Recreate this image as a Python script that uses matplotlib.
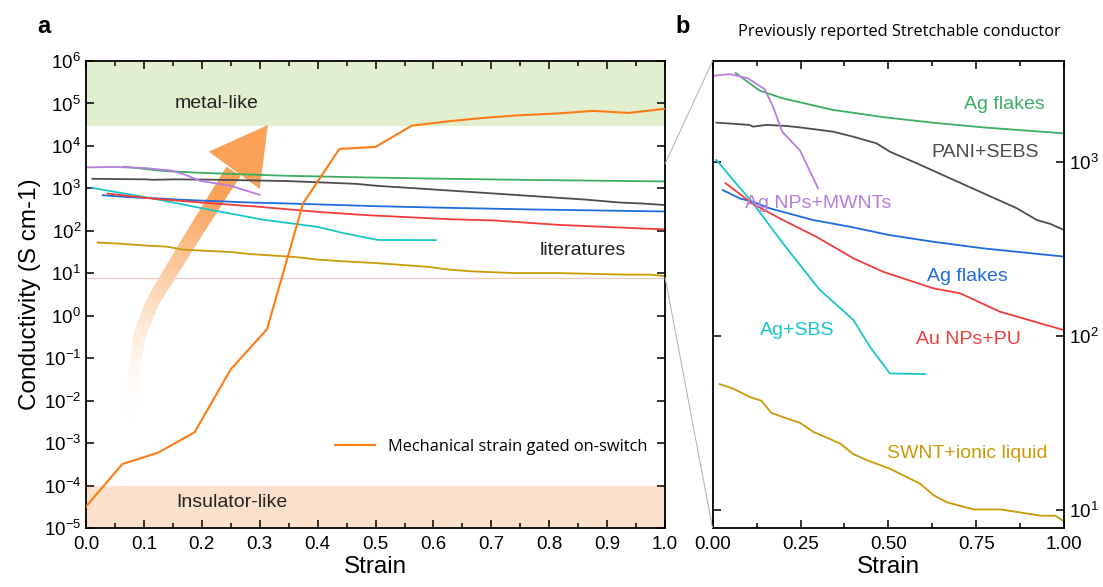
#!/usr/bin/env python3
"""Conductivity vs strain: strain-gated switch (a) and literature zoom (b)."""

import numpy as np
import matplotlib
matplotlib.use("Agg")
import matplotlib.pyplot as plt
from matplotlib.collections import PolyCollection
from matplotlib.patches import Polygon, ConnectionPatch
from matplotlib.transforms import IdentityTransform
from matplotlib.ticker import MultipleLocator, LogLocator, NullLocator, FormatStrFormatter

plt.rcParams["font.family"] = ["Liberation Sans", "DejaVu Sans"]
plt.rcParams["mathtext.default"] = "regular"

# ---- data -------------------------------------------------------------
switch_x = [0.0, 0.0625, 0.125, 0.1875, 0.25, 0.3125, 0.375, 0.4375, 0.5,
            0.5625, 0.625, 0.6875, 0.75, 0.8125, 0.875, 0.9375, 1.0]
switch_y = [3.2e-5, 3.2e-4, 6e-4, 1.8e-3, 0.055, 0.48, 450, 8500, 9500,
            3e4, 3.8e4, 4.6e4, 5.3e4, 5.8e4, 6.7e4, 6e4, 7.5e4]

agflake1_x = [0.066, 0.134, 0.200, 0.343, 0.485, 0.628, 0.770, 1.0]
agflake1_y = [3240, 2570, 2320, 1990, 1810, 1680, 1580, 1460]

agnp_x = [0.0, 0.048, 0.100, 0.148, 0.172, 0.198, 0.248, 0.300]
agnp_y = [3120, 3200, 3030, 2620, 2080, 1490, 1170, 706]

pani_x = [0.011, 0.105, 0.115, 0.153, 0.210, 0.248, 0.343, 0.400, 0.466,
          0.504, 0.580, 0.675, 0.770, 0.865, 0.922, 0.960, 1.0]
pani_y = [1683, 1633, 1596, 1633, 1610, 1580, 1493, 1397, 1280,
          1146, 984, 806, 661, 542, 464, 441, 406]

agflake2_x = [0.029, 0.077, 0.115, 0.162, 0.286, 0.390, 0.504, 0.628, 0.770, 1.0]
agflake2_y = [690, 618, 591, 542, 464, 425, 380, 348, 319, 286]

aunp_x = [0.037, 0.115, 0.200, 0.295, 0.400, 0.485, 0.628, 0.704, 0.817, 1.0]
aunp_y = [755, 574, 464, 372, 280, 234, 188, 176, 138, 108]

agsbs_x = [0.011, 0.115, 0.200, 0.305, 0.400, 0.447, 0.504, 0.604]
agsbs_y = [1026, 579, 341, 184, 124, 87, 61, 60.5]

swnt_x = [0.020, 0.058, 0.105, 0.139, 0.167, 0.210, 0.248, 0.286, 0.362, 0.400,
          0.438, 0.504, 0.552, 0.590, 0.628, 0.666, 0.742, 0.818, 0.875, 0.932,
          0.974, 1.0]
swnt_y = [53.0, 50.0, 44.8, 42.5, 36.2, 33.7, 31.8, 28.2, 24.2, 21.0,
          19.4, 17.3, 15.5, 14.2, 12.2, 11.1, 10.1, 10.1, 9.7, 9.3,
          9.3, 8.6]

# (x, y, color, label, label_x, label_y)
LIT = [
    (agflake1_x, agflake1_y, "#3aae62", "Ag flakes", 0.83, 2130),
    (pani_x, pani_y, "#4d4d4d", "PANI+SEBS", 0.775, 1130),
    (agnp_x, agnp_y, "#b57ee0", "Ag NPs+MWNTs", 0.30, 580),
    (agflake2_x, agflake2_y, "#1f6be0", "Ag flakes", 0.724, 221),
    (agsbs_x, agsbs_y, "#19c6c6", "Ag+SBS", 0.24, 108),
    (aunp_x, aunp_y, "#f23c3c", "Au NPs+PU", 0.727, 96),
    (swnt_x, swnt_y, "#c99a06", "SWNT+ionic liquid", 0.724, 21.3),
]

ZOOM_LO, ZOOM_HI = 7.9, 3800
SWITCH_COLOR = "#ff7b12"
ARROW_COLOR = "#f9a257"
TEXT_FONT = ["Open Sans", "DejaVu Sans"]
TICK_SIZE = 13.5
LABEL_SIZE = 17.5

# arrow path in axes fraction (decoration only)
arrow_fx = [0.0725, 0.078, 0.0846, 0.0933, 0.114, 0.145, 0.180, 0.223, 0.257]
arrow_fy = [0.182, 0.27, 0.353, 0.418, 0.482, 0.546, 0.617, 0.702, 0.768]
arrow_head = [(0.314, 0.863), (0.212, 0.806), (0.300, 0.726)]


def style_ticks(ax):
    ax.tick_params(which="both", direction="in", top=True, right=True,
                   labelsize=TICK_SIZE, width=1.1)
    ax.tick_params(which="major", length=6)
    ax.tick_params(which="minor", length=3.5)
    ax.tick_params(axis="x", pad=6)
    for s in ax.spines.values():
        s.set_linewidth(1.3)


def gradient_shaft(ax):
    """Fading arrow shaft drawn as opaque quads in display space."""
    t = np.linspace(0, 1, len(arrow_fx))
    tt = np.linspace(0, 1, 120)
    fx = np.interp(tt, t, arrow_fx)
    fy = np.interp(tt, t, arrow_fy)
    pts = ax.transAxes.transform(np.column_stack([fx, fy]))
    # smooth a little
    k = np.ones(9) / 9
    sm = np.column_stack([np.convolve(np.pad(pts[:, i], 4, mode="edge"), k, "valid")
                          for i in range(2)])
    d = np.gradient(sm, axis=0)
    d /= np.linalg.norm(d, axis=1)[:, None]
    nrm = np.column_stack([-d[:, 1], d[:, 0]])
    half = (9 + 7 * tt)[:, None] / 2
    left = sm + nrm * half
    right = sm - nrm * half
    quads, cols = [], []
    base = np.array(matplotlib.colors.to_rgb(ARROW_COLOR))
    for i in range(len(tt) - 1):
        quads.append([left[i], left[i + 1], right[i + 1], right[i]])
        f = np.clip((tt[i] - 0.03) / 0.85, 0, 1) ** 1.7
        cols.append(tuple(1 - f * (1 - base)))
    pc = PolyCollection(quads, facecolors=cols, edgecolors=cols, linewidths=0.6,
                        transform=IdentityTransform(), zorder=1.5)
    ax.add_collection(pc)


fig = plt.figure(figsize=(11.03, 5.87), dpi=100)
ax_a = fig.add_axes([0.078, 0.1005, 0.525, 0.7955])
ax_b = fig.add_axes([0.646, 0.1005, 0.319, 0.7955])

# ---- panel a ----------------------------------------------------------
ax_a.set_yscale("log")
ax_a.set_xlim(0, 1)
ax_a.set_ylim(1e-5, 1e6)
ax_a.axhspan(3e4, 1e6, color="#e2efcf", lw=0, zorder=0)
ax_a.axhspan(1e-5, 1e-4, color="#fde0cc", lw=0, zorder=0)
ax_a.axhline(ZOOM_LO, color="#f6c9c9", lw=0.9, zorder=0.5)

gradient_shaft(ax_a)
ax_a.add_patch(Polygon(arrow_head, closed=True, color=ARROW_COLOR, lw=0,
                       transform=ax_a.transAxes, zorder=1.6))

for xs, ys, c, _, _, _ in LIT:
    ax_a.plot(xs, ys, color=c, lw=1.3, zorder=2)
ax_a.plot(switch_x, switch_y, color=SWITCH_COLOR, lw=1.5, zorder=3,
          label="Mechanical strain gated on-switch")

ax_a.text(0.226, 1e5, "metal-like", fontsize=14, ha="center", va="center",
          color="#222222")
ax_a.text(0.858, 35, "literatures", fontsize=14, ha="center", va="center",
          color="#222222")
ax_a.text(0.252, 4e-5, "Insulator-like", fontsize=14, ha="center",
          va="center", color="#222222")

ax_a.legend(loc="center left", bbox_to_anchor=(0.405, 0.173), frameon=False,
            handlelength=2.4, prop={"family": TEXT_FONT, "size": 11.8})

ax_a.xaxis.set_major_locator(MultipleLocator(0.1))
ax_a.xaxis.set_minor_locator(MultipleLocator(0.05))
ax_a.xaxis.set_major_formatter(FormatStrFormatter("%.1f"))
ax_a.yaxis.set_major_locator(LogLocator(base=10, numticks=20))
ax_a.yaxis.set_minor_locator(NullLocator())
style_ticks(ax_a)
ax_a.set_xlabel("Strain", fontsize=LABEL_SIZE, labelpad=2)
ax_a.set_ylabel("Conductivity (S cm-1)", fontsize=LABEL_SIZE, labelpad=2)

# ---- panel b ----------------------------------------------------------
ax_b.set_yscale("log")
ax_b.set_xlim(0, 1)
ax_b.set_ylim(ZOOM_LO, ZOOM_HI)
for xs, ys, c, lab, lx, ly in LIT:
    ax_b.plot(xs, ys, color=c, lw=1.3)
    ax_b.text(lx, ly, lab, color=c, fontsize=14, ha="center", va="center")

ax_b.xaxis.set_major_locator(MultipleLocator(0.25))
ax_b.xaxis.set_minor_locator(MultipleLocator(0.125))
ax_b.xaxis.set_major_formatter(FormatStrFormatter("%.2f"))
ax_b.yaxis.set_major_locator(LogLocator(base=10, numticks=10))
ax_b.yaxis.set_minor_locator(NullLocator())
style_ticks(ax_b)
ax_b.tick_params(axis="y", labelleft=False, labelright=True)
ax_b.set_xlabel("Strain", fontsize=LABEL_SIZE, labelpad=2)

# zoom connectors
for y in (ZOOM_HI, ZOOM_LO):
    con = ConnectionPatch(xyA=(1.0, y), coordsA=ax_a.transData,
                          xyB=(0.0, y), coordsB=ax_b.transData,
                          color="#b0b0b0", lw=0.7)
    fig.add_artist(con)

fig.text(0.034, 0.955, "a", fontsize=17, fontweight="bold", va="center")
fig.text(0.612, 0.955, "b", fontsize=17, fontweight="bold", va="center")
fig.text(0.815, 0.945, "Previously reported Stretchable conductor",
         fontsize=11.8, ha="center", va="center", family=TEXT_FONT)

fig.savefig("out.png", dpi=100)
